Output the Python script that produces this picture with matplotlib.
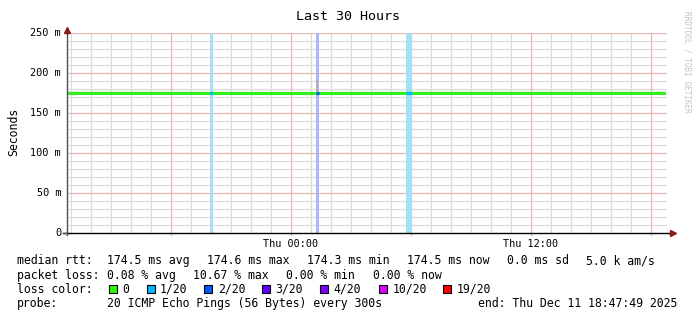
import numpy as np
import pandas as pd
from matplotlib import pyplot as plt
from matplotlib.patches import Rectangle

# %%
# data
t_start = pd.Timestamp("2025-12-10 12:47:49")
t_end = pd.Timestamp("2025-12-11 18:47:49")

rtt_times = ["2025-12-10 12:47:49", "2025-12-10 18:00", "2025-12-11 00:00",
             "2025-12-11 06:00", "2025-12-11 12:00", "2025-12-11 18:45"]
rtt_ms = [174.5, 174.5, 174.4, 174.5, 174.5, 174.5]

loss_start = ["2025-12-10 19:57", "2025-12-11 01:14", "2025-12-11 05:46"]
loss_end = ["2025-12-10 20:07", "2025-12-11 01:24", "2025-12-11 06:02"]
loss_count = ["1/20", "2/20", "1/20"]

# smoke (ping spread) visible above the median line
smoke_times = ["2025-12-11 01:14"]
smoke_top_ms = [191.0]

legend_labels = ["0", "1/20", "2/20", "3/20", "4/20", "10/20", "19/20"]
legend_colors = ["#26ff00", "#00b8ff", "#0059ff", "#5e00ff", "#7e00ff", "#dd00ff", "#ff0000"]
band_colors = {"1/20": "#a6e0f6", "2/20": "#aab4ff"}
line_colors = dict(zip(legend_labels, legend_colors))

rtt_stats = ["174.5 ms avg", "174.6 ms max", "174.3 ms min", "174.5 ms now", "0.0 ms sd", "5.0 k am/s"]
loss_stats = ["0.08 % avg", "10.67 % max", "0.00 % min", "0.00 % now"]

# %%
W, H = 697, 321
fig = plt.figure(figsize=(W / 100, H / 100), dpi=100)
px_l, px_r, px_t, px_b = 67, 667, 33, 233
ax = fig.add_axes([px_l / W, 1 - px_b / H, (px_r - px_l) / W, (px_b - px_t) / H])
mono = "DejaVu Sans Mono"

def hrs(t):
    return (pd.Timestamp(t) - t_start).total_seconds() / 3600

span = hrs(t_end)
ax.set_xlim(0, span)
ax.set_ylim(0, 250)
for s in ax.spines.values():
    s.set_visible(False)
ax.set_xticks([])
ax.set_yticks([])

# grid
first_hour = t_start.ceil("h")
hours = pd.date_range(first_hour, t_end, freq="h")
for h in hours:
    x = hrs(h)
    if h.hour % 6 == 0:
        ax.plot([x, x], [-2, 250], color="#e8b4b4", lw=0.9, clip_on=False, zorder=1)
    else:
        ax.axvline(x, color="#dcdcdc", lw=0.9, zorder=0)
for v in range(10, 251, 10):
    if v % 50 == 0:
        ax.axhline(v, color="#e8b4b4", lw=0.9, zorder=1)
    else:
        ax.axhline(v, color="#dcdcdc", lw=0.9, zorder=0)

# loss bands
for a, b, c in zip(loss_start, loss_end, loss_count):
    ax.axvspan(hrs(a), hrs(b), color=band_colors[c], lw=0, zorder=2)

# smoke
for t, top in zip(smoke_times, smoke_top_ms):
    x = hrs(t)
    ax.add_patch(Rectangle((x, 175), 0.12, top - 175, color="#b0b0b0", lw=0, zorder=3))

# median rtt
rx = [hrs(t) for t in rtt_times]
ax.plot(rx, rtt_ms, color="#30f020", lw=2.3, zorder=4, solid_capstyle="butt")
for a, b, c in zip(loss_start, loss_end, loss_count):
    ax.plot([hrs(a), hrs(b)], [174.5, 174.5], color=line_colors[c], lw=2.3, zorder=5,
            solid_capstyle="butt")

# axes with arrows
ax.plot([0, 0], [-2, 253], color="#505050", lw=1, clip_on=False, zorder=6)
ax.plot([-0.2, span + 0.15], [0, 0], color="black", lw=1, clip_on=False, zorder=6)
ax.plot([-0.2, 0], [0, 0], color="#505050", lw=1, clip_on=False, zorder=6)
ax.plot(0, 254, marker="^", color="#8b1a1a", ms=5, clip_on=False, zorder=7)
ax.plot(span + 0.3, 0, marker=">", color="#8b1a1a", ms=5, clip_on=False, zorder=7)

# tick labels
for v in range(0, 251, 50):
    lab = "0" if v == 0 else f"{v} m"
    fig.text(61 / W, 1 - (px_b - v * 0.8) / H, lab, ha="right", va="center",
             family=mono, fontsize=7.4)
for h in hours:
    if h.hour in (0, 12):
        fig.text((px_l + hrs(h) * 20) / W, 1 - 247.3 / H, h.strftime("%a %H:%M"),
                 ha="center", va="baseline", family=mono, fontsize=7.3)

fig.text(348 / W, 1 - 20 / H, "Last 30 Hours", ha="center", va="baseline",
         family=mono, fontsize=9.6)
fig.text(14 / W, 1 - 131.5 / H, "Seconds", rotation=90, ha="center", va="center",
         family=mono, fontsize=8.3)
fig.text(687 / W, 1 - 62 / H, "RRDTOOL / TOBI OETIKER", rotation=270, ha="center",
         va="center", family=mono, fontsize=5.6, color="#c4c4c4")

# legend
def txt(x, y, s):
    fig.text(x / W, 1 - y / H, s, ha="left", va="baseline", family=mono, fontsize=8.3)

txt(16.7, 264.3, "median rtt:")
for x, s in zip([107.3, 207.3, 307.3, 407.3, 507.3, 586], rtt_stats):
    txt(x, 264.3, s)
txt(16.7, 278.7, "packet loss:")
for x, s in zip([107.3, 193.3, 286, 372.7], loss_stats):
    txt(x, 278.7, s)
txt(16.7, 292.7, "loss color:")
sq_x = [109.3, 146.7, 204.3, 262.3, 320, 379, 443.3]
for x, lab, col in zip(sq_x, legend_labels, legend_colors):
    fig.patches.append(Rectangle((x / W, 1 - 293 / H), 8 / W, 8 / H, transform=fig.transFigure,
                                 facecolor=col, edgecolor="black", lw=0.8))
    txt(x + 13.4, 292.7, lab)
txt(16.7, 307, "probe:")
txt(107.3, 307, "20 ICMP Echo Pings (56 Bytes) every 300s")
txt(478.3, 307, "end: Thu Dec 11 18:47:49 2025")

fig.savefig("out.png", dpi=100)
